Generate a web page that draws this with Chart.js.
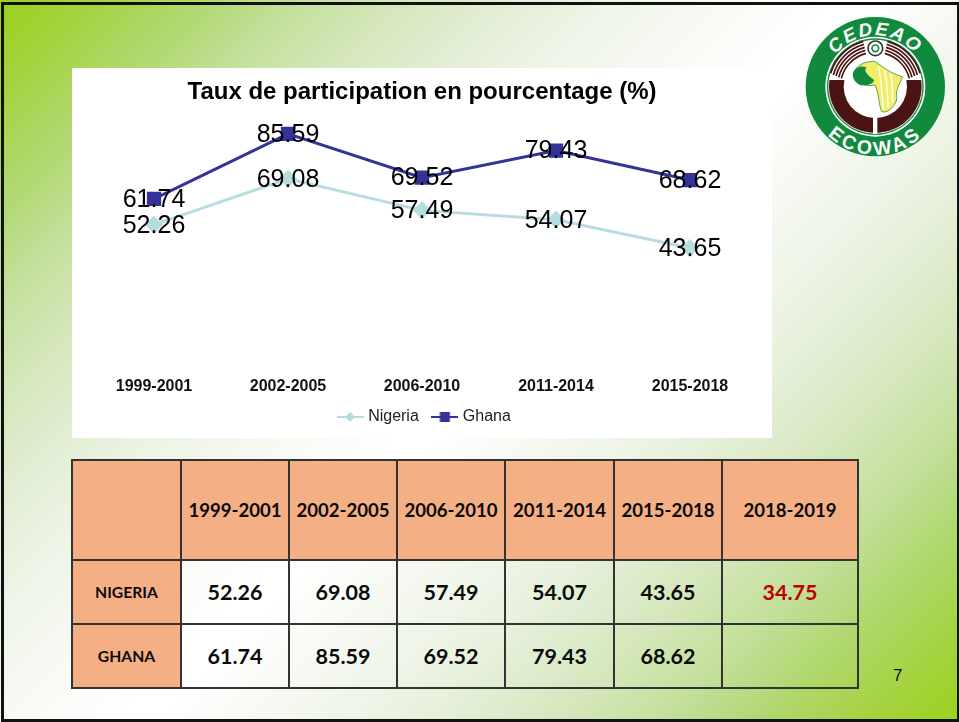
<!DOCTYPE html>
<html lang="fr">
<head>
<meta charset="utf-8">
<title>Taux de participation</title>
<script src="https://cdn.jsdelivr.net/npm/chart.js@4"></script>
<style>
  html, body { margin: 0; padding: 0; }
  body {
    position: relative; width: 959px; height: 722px; overflow: hidden;
    background: linear-gradient(135deg,
      #9bd11a 0%, #a6d343 6%, #b0d870 12%, #c4e09c 18%, #d5e7bc 24%, #e2eed4 30%, #eef4e6 36%, #f6f9f2 42%, #ffffff 50%,
      #ffffff 52%, #f6f9f2 58%, #eef4e6 64%, #e2eed4 70%, #d5e7bc 76%, #c4e09c 82%, #b0d870 88%, #a6d343 94%, #9bd11a 100%);
  }
  #frame { position: absolute; left: 1px; top: 2px; width: 953px; height: 714px; border: 3px solid #111; }
  #chartBox { position: absolute; left: 72px; top: 68px; width: 700px; height: 370px; background: #fff; }
  #logo { position: absolute; left: 800px; top: 10px; }
  #pageNo { position: absolute; left: 893px; top: 666px; font: 17px "Liberation Sans", Arial, sans-serif; color: #111; }
  table {
    position: absolute; left: 71px; top: 459px; width: 786px; height: 228px;
    border-collapse: collapse; table-layout: fixed;
    font-family: Lato, sans-serif; font-weight: 700; color: #0a0a0a; text-align: center;
  }
  th, td { border: 2px solid #333; padding: 0; box-sizing: border-box; }
  thead th { background: #f4b084; font-size: 18.6px; height: 100px; font-weight: 700; }
  tbody th { background: #f4b084; font-size: 15.7px; font-weight: 700; }
  tbody td { font-size: 21.5px; height: 64px; }
  td.latest { color: #c00000; }
</style>
</head>
<body>
<div id="frame"></div>
<div id="chartBox"><canvas id="chart" width="700" height="370"></canvas></div>

<svg id="logo" width="155" height="155" viewBox="0 0 465 465">
  <defs>
    <path id="arcTop" d="M 72 230 A 154 154 0 0 1 380 230"/>
    <path id="arcBottom" d="M 22 230 A 204 204 0 0 0 430 230"/>
  </defs>
  <circle cx="226" cy="230" r="209" fill="#118a3e"/>
  <circle cx="226" cy="230" r="150" fill="#fff"/>
  <circle cx="226" cy="230" r="145" fill="#118a3e"/>
  <circle cx="226" cy="230" r="141" fill="#fff"/>
  <path d="M 88.4 210 A 139 139 0 1 0 363.6 210 L 319 210 A 95 95 0 1 1 133 210 Z" fill="#4a1414"/>
  <g fill="none" stroke="#4a1414" stroke-width="5">
    <path d="M 92 190 A 140 140 0 0 1 190 94"/><path d="M 100 195 A 131 131 0 0 1 192 103"/>
    <path d="M 108 198 A 122 122 0 0 1 194 112"/><path d="M 116 202 A 113 113 0 0 1 196 121"/>
    <path d="M 124 205 A 104 104 0 0 1 198 130"/>
    <path d="M 360 190 A 140 140 0 0 0 262 94"/><path d="M 352 195 A 131 131 0 0 0 260 103"/>
    <path d="M 344 198 A 122 122 0 0 0 258 112"/><path d="M 336 202 A 113 113 0 0 0 256 121"/>
    <path d="M 328 205 A 104 104 0 0 0 254 130"/>
  </g>
  <rect x="219" y="322" width="13" height="50" fill="#fff"/>
  <circle cx="226" cy="115" r="22" fill="#fff" stroke="#333" stroke-width="5"/>
  <circle cx="226" cy="115" r="10" fill="none" stroke="#118a3e" stroke-width="5"/>
  <path d="M 160 190 C 165 170 195 150 225 155 C 250 170 270 190 307 200 C 300 225 285 235 290 270 C 280 295 262 310 245 305 C 235 280 238 255 225 225 C 200 230 165 225 160 190 Z" fill="#f3ee6a" stroke="#0f7a36" stroke-width="2"/>
  <g fill="none" stroke="#fff" stroke-width="4">
    <path d="M 236 170 C 244 210 246 260 250 296"/><path d="M 254 182 C 262 215 262 255 264 290"/><path d="M 272 192 C 280 220 276 250 278 278"/>
  </g>
  <path d="M 158 192 C 164 172 182 165 200 172 C 188 182 205 198 222 210 C 222 222 195 230 178 224 C 164 216 158 205 158 192 Z" fill="#118a3e"/>
  <text font-family="Liberation Sans, Arial, sans-serif" font-weight="700" font-style="italic" font-size="56" fill="#fff" letter-spacing="6"><textPath href="#arcTop" startOffset="50%" text-anchor="middle">CEDEAO</textPath></text>
  <text font-family="Liberation Sans, Arial, sans-serif" font-weight="700" font-size="58" fill="#fff" letter-spacing="10"><textPath href="#arcBottom" startOffset="50%" text-anchor="middle">ECOWAS</textPath></text>
</svg>

<table id="dataTable"></table>
<div id="pageNo">7</div>

<script>
  /* ── Data ── */
  const periods = ['1999-2001', '2002-2005', '2006-2010', '2011-2014', '2015-2018', '2018-2019'];
  const nigeria = [52.26, 69.08, 57.49, 54.07, 43.65, 34.75];
  const ghana   = [61.74, 85.59, 69.52, 79.43, 68.62];

  /* The chart stops at 2015-2018, the table goes one period further */
  const chartPeriods = periods.slice(0, 5);

  const ARIAL = "'Liberation Sans', Arial, sans-serif";
  const NIGERIA_COLOR = '#b7dde0';
  const GHANA_COLOR   = '#333399';

  /* ── Legend key: short line with the marker on top ── */
  function legendKey(color, isDiamond) {
    const c = document.createElement('canvas');
    c.width = 27; c.height = 14;
    const g = c.getContext('2d');
    g.fillStyle = color;
    g.fillRect(0, 6, 27, 2);
    g.translate(13.5, 7);
    if (isDiamond) {
      g.rotate(Math.PI / 4);
      g.fillRect(-3.5, -3.5, 7, 7);
    } else {
      g.fillRect(-5, -5, 10, 10);
    }
    return c;
  }

  /* ── Value labels, centred on the points, text stays on top ── */
  const valueLabels = {
    id: 'valueLabels',
    afterDatasetsDraw(chart) {
      const { ctx } = chart;
      ctx.save();
      ctx.font = '25px ' + ARIAL;
      ctx.fillStyle = '#000';
      ctx.textAlign = 'center';
      ctx.textBaseline = 'middle';
      chart.data.datasets.forEach((ds, i) => {
        chart.getDatasetMeta(i).data.forEach((pt, j) => {
          ctx.fillText(ds.data[j].toFixed(2), pt.x, pt.y + 1);
        });
      });
      ctx.restore();
    },
  };

  /* ── The slide's legend sits a little right of centre ── */
  const legendNudge = {
    id: 'legendNudge',
    afterLayout(chart) {
      chart.legend.left += 3.5;
      chart.legend.right += 3.5;
    },
  };

  new Chart(document.getElementById('chart'), {
    type: 'line',
    data: {
      labels: chartPeriods,
      datasets: [
        {
          label: 'Nigeria', data: nigeria.slice(0, 5),
          borderColor: NIGERIA_COLOR, backgroundColor: NIGERIA_COLOR, borderWidth: 3,
          pointStyle: 'rectRot', pointRadius: 7, tension: 0,
        },
        {
          label: 'Ghana', data: ghana,
          borderColor: GHANA_COLOR, backgroundColor: GHANA_COLOR, borderWidth: 3,
          pointStyle: 'rect', pointRadius: 8, tension: 0,
        },
      ],
    },
    plugins: [valueLabels, legendNudge],
    options: {
      responsive: false,
      animation: false,
      layout: { padding: { left: 15, right: 15, bottom: 3 } },
      plugins: {
        tooltip: { enabled: false },
        title: {
          display: true,
          text: 'Taux de participation en pourcentage (%)',
          color: '#000',
          font: { family: ARIAL, size: 24, weight: 'bold' },
          padding: { top: 10, bottom: 15 },
        },
        legend: {
          position: 'bottom',
          labels: {
            color: '#222',
            font: { family: ARIAL, size: 16 },
            usePointStyle: true,
            pointStyleWidth: 20,
            padding: 16,
            generateLabels: (chart) => chart.data.datasets.map((ds, i) => ({
              text: ds.label,
              datasetIndex: i,
              fontColor: '#222',
              lineWidth: 0,
              pointStyle: legendKey(ds.borderColor, ds.pointStyle === 'rectRot'),
            })),
          },
        },
      },
      scales: {
        x: {
          grid: { display: false },
          border: { display: false },
          offset: true,
          afterFit: (s) => { s.height = 26; },
          ticks: {
            color: '#111',
            padding: 2,
            maxRotation: 0,
            font: { family: ARIAL, size: 16, weight: 'bold' },
          },
        },
        y: { display: false, min: 0, max: 90 },
      },
    },
  });

  /* ── Table under the chart ── */
  const colWidths = [109, 108, 108, 108, 109, 108, 136];
  const table = document.getElementById('dataTable');
  const colgroup = colWidths.map((w) => `<col style="width:${w}px">`).join('');
  const headCells = periods.map((p) => `<th>${p}</th>`).join('');
  const rowCells = (values) => periods.map((p, i) => {
    const v = values[i];
    const cls = p === '2018-2019' ? ' class="latest"' : '';
    return `<td${cls}>${v === undefined ? '' : v.toFixed(2)}</td>`;
  }).join('');
  table.innerHTML =
    `<colgroup>${colgroup}</colgroup>` +
    `<thead><tr><th></th>${headCells}</tr></thead>` +
    `<tbody><tr><th>NIGERIA</th>${rowCells(nigeria)}</tr>` +
    `<tr><th>GHANA</th>${rowCells(ghana)}</tr></tbody>`;
</script>
</body>
</html>
